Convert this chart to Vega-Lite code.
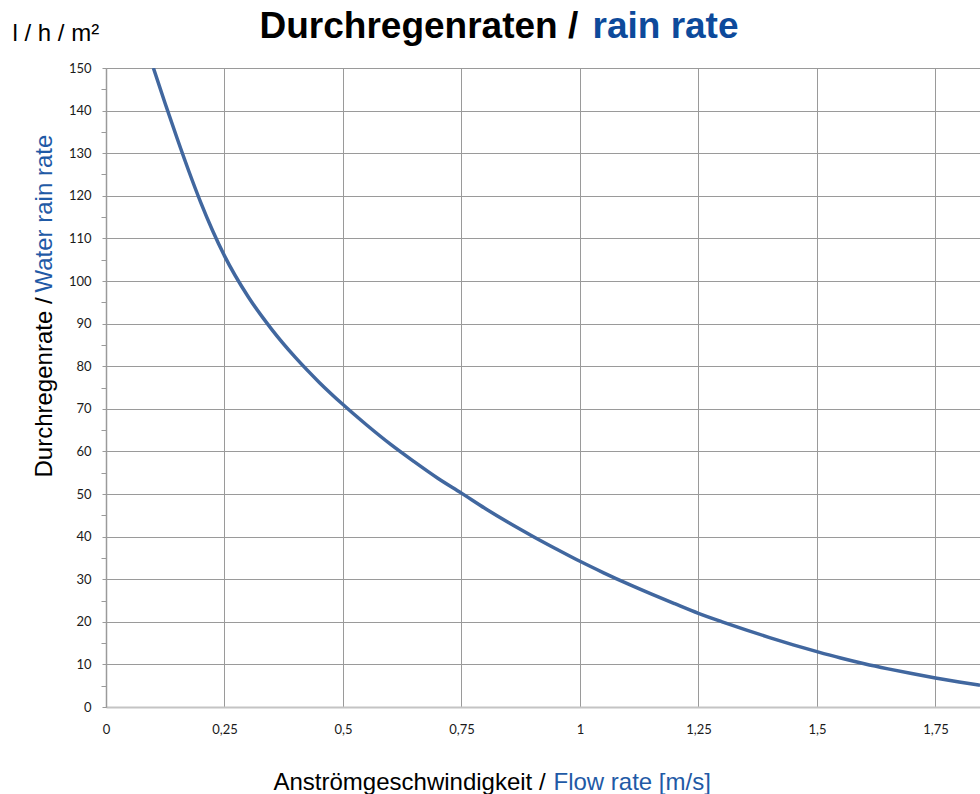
{
  "$schema": "https://vega.github.io/schema/vega-lite/v6.json",
  "width": 874,
  "height": 639,
  "autosize": {"type": "none"},
  "padding": {"left": 106, "top": 68, "right": 0, "bottom": 87},
  "background": "white",
  "config": {
    "view": {"stroke": null},
    "axis": {"titleFont": "Liberation Sans", "labelFont": "Lato", "labelColor": "#1a1a1a", "titleFontWeight": "normal"}
  },
  "data": {"values": [
    {"v": 0.10, "r": 150},
    {"v": 0.125, "r": 141.6},
    {"v": 0.15, "r": 133.5},
    {"v": 0.175, "r": 125.7},
    {"v": 0.20, "r": 118.4},
    {"v": 0.225, "r": 111.8},
    {"v": 0.25, "r": 105.9},
    {"v": 0.30, "r": 96.3},
    {"v": 0.35, "r": 88.6},
    {"v": 0.40, "r": 82.0},
    {"v": 0.45, "r": 76.2},
    {"v": 0.50, "r": 71.0},
    {"v": 0.55, "r": 66.2},
    {"v": 0.60, "r": 61.7},
    {"v": 0.65, "r": 57.6},
    {"v": 0.70, "r": 53.7},
    {"v": 0.75, "r": 50.2},
    {"v": 0.80, "r": 46.6},
    {"v": 0.85, "r": 43.25},
    {"v": 0.90, "r": 40.1},
    {"v": 0.95, "r": 37.1},
    {"v": 1.00, "r": 34.2},
    {"v": 1.05, "r": 31.5},
    {"v": 1.10, "r": 28.95},
    {"v": 1.15, "r": 26.55},
    {"v": 1.20, "r": 24.25},
    {"v": 1.25, "r": 22.0},
    {"v": 1.30, "r": 20.0},
    {"v": 1.35, "r": 18.1},
    {"v": 1.40, "r": 16.3},
    {"v": 1.45, "r": 14.6},
    {"v": 1.50, "r": 13.0},
    {"v": 1.55, "r": 11.5},
    {"v": 1.60, "r": 10.15},
    {"v": 1.65, "r": 8.95},
    {"v": 1.70, "r": 7.85},
    {"v": 1.75, "r": 6.8},
    {"v": 1.80, "r": 5.85},
    {"v": 1.844, "r": 5.1}
  ]},
  "resolve": {"axis": {"x": "independent", "y": "independent"}},
  "layer": [
    {
      "mark": {"type": "line", "color": "#41679f", "strokeWidth": 3.5, "clip": true, "interpolate": "monotone"},
      "encoding": {
        "x": {"field": "v", "type": "quantitative",
          "scale": {"domain": [0, 1.844], "nice": false, "zero": false},
          "axis": {"orient": "bottom", "values": [0, 0.25, 0.5, 0.75, 1, 1.25, 1.5, 1.75],
            "labelExpr": "replace(toString(datum.value), '.', ',')",
            "labelFontSize": 13, "labelPadding": 16, "labelFlush": false, "ticks": false,
            "grid": true, "gridColor": "#9a9a9a", "gridWidth": 1,
            "domain": true, "domainColor": "#c4c4c4", "domainWidth": 2,
            "title": "Anströmgeschwindigkeit /", "titleFontSize": 24, "titleColor": "#000000",
            "titleX": 167, "titleY": 82, "titleAlign": "left", "titleBaseline": "alphabetic"}},
        "y": {"field": "r", "type": "quantitative",
          "scale": {"domain": [0, 150], "nice": false},
          "axis": {"orient": "left", "values": [0, 10, 20, 30, 40, 50, 60, 70, 80, 90, 100, 110, 120, 130, 140, 150],
            "labelFontSize": 13, "labelPadding": 11, "labelFlush": false, "ticks": true, "tickSize": 4, "tickColor": "#9a9a9a",
            "grid": true, "gridColor": "#9a9a9a", "gridWidth": 1,
            "domain": true, "domainColor": "#9a9a9a", "domainWidth": 1.5,
            "title": "Durchregenrate /", "titleFontSize": 24, "titleColor": "#000000", "titleAngle": 270,
            "titleX": -55, "titleY": 409, "titleAlign": "left", "titleBaseline": "alphabetic"}}
      }
    },
    {
      "mark": {"type": "point", "opacity": 0},
      "encoding": {
        "x": {"field": "v", "type": "quantitative",
          "axis": {"orient": "bottom", "labels": false, "ticks": false, "grid": false, "domain": false,
            "title": "Flow rate [m/s]", "titleFontSize": 24, "titleColor": "#1f5aa6",
            "titleX": 447, "titleY": 82, "titleAlign": "left", "titleBaseline": "alphabetic"}},
        "y": {"field": "r", "type": "quantitative",
          "axis": {"orient": "left", "values": [5, 15, 25, 35, 45, 55, 65, 75, 85, 95, 105, 115, 125, 135, 145],
            "labels": false, "ticks": true, "tickSize": 5, "tickColor": "#9a9a9a", "grid": false, "domain": false,
            "title": "Water rain rate", "titleFontSize": 24, "titleColor": "#1f5aa6", "titleAngle": 270,
            "titleX": -55, "titleY": 224, "titleAlign": "left", "titleBaseline": "alphabetic"}}
      }
    },
    {
      "mark": {"type": "point", "opacity": 0},
      "encoding": {
        "x": {"field": "v", "type": "quantitative",
          "axis": {"orient": "top", "labels": false, "ticks": false, "grid": false, "domain": false,
            "title": "Durchregenraten /", "titleFontSize": 37, "titleFontWeight": "bold", "titleColor": "#000000",
            "titleX": 153, "titleY": -31, "titleAlign": "left", "titleBaseline": "alphabetic"}},
        "y": {"field": "r", "type": "quantitative",
          "axis": {"orient": "left", "labels": false, "ticks": false, "grid": false, "domain": false,
            "title": "l / h / m²", "titleFontSize": 24, "titleColor": "#000000", "titleAngle": 0,
            "titleX": -94, "titleY": -28, "titleAlign": "left", "titleBaseline": "alphabetic"}}
      }
    },
    {
      "mark": {"type": "point", "opacity": 0},
      "encoding": {
        "x": {"field": "v", "type": "quantitative",
          "axis": {"orient": "top", "labels": false, "ticks": false, "grid": false, "domain": false,
            "title": "rain rate", "titleFontSize": 37, "titleFontWeight": "bold", "titleColor": "#0d4a9b",
            "titleX": 486, "titleY": -31, "titleAlign": "left", "titleBaseline": "alphabetic"}},
        "y": {"field": "r", "type": "quantitative", "axis": null}
      }
    }
  ]
}
